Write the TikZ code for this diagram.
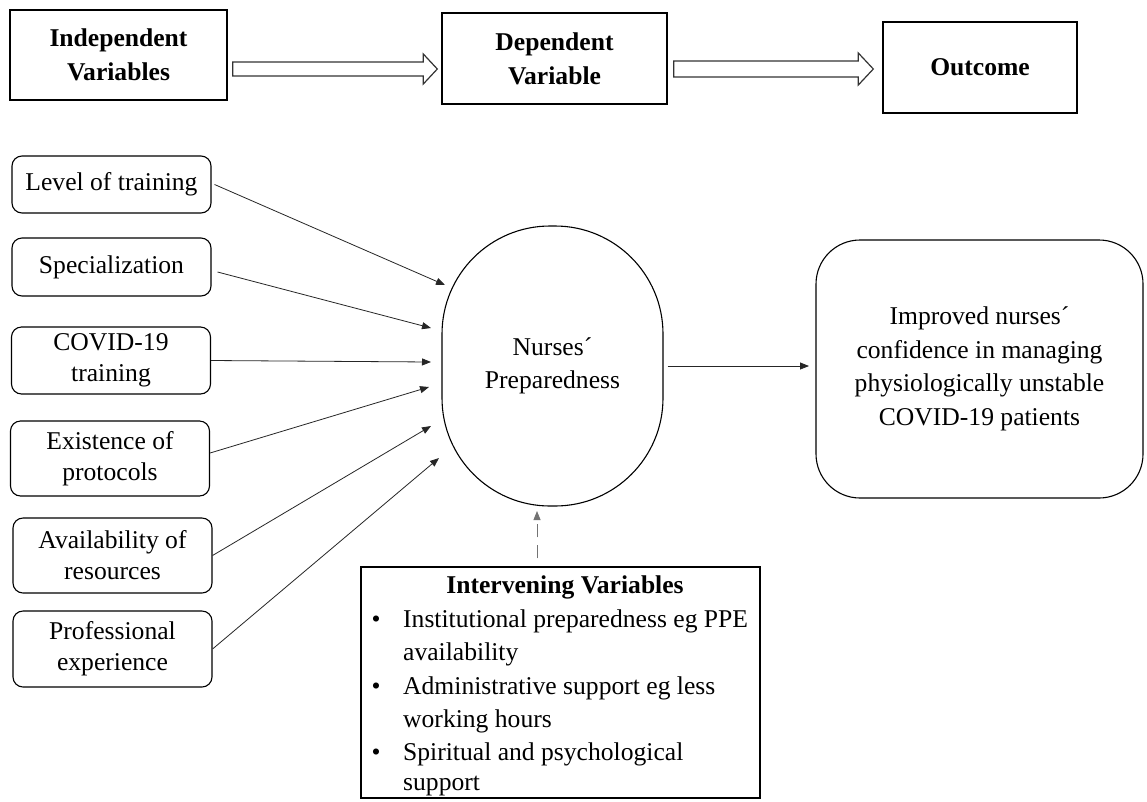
\documentclass[tikz,border=0pt]{standalone}
\usepackage{fontspec}
\setmainfont{Liberation Serif}
\usetikzlibrary{arrows.meta,calc}
\tikzset{
  hdr/.style={draw=black, line width=1.4pt, inner sep=0pt, align=center,
    font=\fontsize{25.6}{34}\selectfont\bfseries},
  varbox/.style={draw=black, line width=1.1pt, rounded corners=10pt, inner sep=0pt,
    align=center, minimum width=199pt, font=\fontsize{25.6}{31}\selectfont},
  bigtxt/.style={inner sep=0pt, align=center, font=\fontsize{25.6}{33.5}\selectfont},
  conn/.style={draw=black!85, line width=0.8pt, -{Triangle[length=9pt,width=7pt]}},
  fat/.style={draw=black!80, line width=1.2pt, fill=white},
  txt/.style={inner sep=0pt, font=\fontsize{25.6}{33}\selectfont},
  ivbox/.style={draw=black, line width=1.3pt, inner sep=0pt}
}
\begin{document}
\begin{tikzpicture}[x=1pt, y=-1pt]
\fill[white] (0,0) rectangle (1147,801);
\useasboundingbox (0,0) rectangle (1147,801);

% header row
\node[hdr, minimum width=217pt, minimum height=90pt] (ind) at (118.5,55) {Independent\\Variables};
\node[hdr, minimum width=225pt, minimum height=91pt] (dep) at (554.5,58.5) {Dependent\\Variable};
\node[hdr, minimum width=194pt, minimum height=91pt] (out) at (980,67.5) {Outcome};

\draw[fat] let \p1=([xshift=5pt]ind.east), \p2=([xshift=-4pt]dep.west) in
  (\x1,-62pt) -- (\x2-14pt,-62pt) -- (\x2-14pt,-54pt) -- (\x2,-69pt) --
  (\x2-14pt,-84pt) -- (\x2-14pt,-76pt) -- (\x1,-76pt) -- cycle;
\draw[fat] let \p1=([xshift=6pt]dep.east), \p2=([xshift=-9pt]out.west) in
  (\x1,-61pt) -- (\x2-15pt,-61pt) -- (\x2-15pt,-53pt) -- (\x2,-69pt) --
  (\x2-15pt,-85pt) -- (\x2-15pt,-77pt) -- (\x1,-77pt) -- cycle;

% independent variables
\node[varbox, minimum height=57pt] (lvl) at (111.5,184.5) {Level of training};
\node[varbox, minimum height=58pt] (spec) at (111.5,267) {Specialization};
\node[varbox, minimum height=67pt] (cov) at (111,360.5) {COVID-19\\training};
\node[varbox, minimum height=75pt] (exi) at (110,458.5) {Existence of\\protocols};
\node[varbox, minimum height=75pt] (ava) at (112.5,555.5) {Availability of\\resources};
\node[varbox, minimum height=76pt] (pro) at (112.5,649) {Professional\\experience};

% dependent variable
\node[draw=black, line width=1.1pt, rounded corners=108pt, minimum width=221pt,
  minimum height=280pt, bigtxt] (np) at (552.5,366) {Nurses´\\Preparedness};

% outcome
\node[draw=black, line width=1.1pt, rounded corners=44pt, minimum width=327pt,
  minimum height=258pt, bigtxt] (imp) at (979.5,369)
  {Improved nurses´\\confidence in managing\\physiologically unstable\\COVID-19 patients};

% intervening variables
\node[ivbox, minimum width=399pt, minimum height=231pt] (iv) at (560.5,682.5) {};
\node[txt, anchor=base, font=\fontsize{25.6}{33}\selectfont\bfseries] (ivt) at (565,593) {Intervening Variables};
\node[txt, anchor=base] (b1) at (376,627) {\textbullet};
\node[txt, anchor=base] (b2) at (376,694) {\textbullet};
\node[txt, anchor=base] (b3) at (376,760) {\textbullet};
\node[txt, anchor=base west] (l1) at (403,627) {Institutional preparedness eg PPE};
\node[txt, anchor=base west] (l2) at (403,660) {availability};
\node[txt, anchor=base west] (l3) at (403,694) {Administrative support eg less};
\node[txt, anchor=base west] (l4) at (403,727) {working hours};
\node[txt, anchor=base west] (l5) at (403,760) {Spiritual and psychological};
\node[txt, anchor=base west] (l6) at (403,790) {support};

% arrow end points
\coordinate (t1) at (445,285);
\coordinate (t2) at (431,328);
\coordinate (t3) at (431,362);
\coordinate (t4) at (429,387);
\coordinate (t5) at (431,426);
\coordinate (t6) at (439,458);
\coordinate (rt) at (809,366);
\coordinate (dt) at (537,511);

\draw[conn] ([xshift=3pt]lvl.east) -- (t1);
\draw[conn] ([xshift=6pt,yshift=-5pt]spec.east) -- (t2);
\draw[conn] (cov.east) -- (t3);
\draw[conn] ([yshift=5.5pt]exi.east) -- (t4);
\draw[conn] (ava.east) -- (t5);
\draw[conn] (pro.east) -- (t6);
\draw[conn] ([xshift=4pt]np.east) -- (rt);
\draw[conn, draw=black!55, dash pattern=on 13pt off 8pt, dash phase=13pt] ([xshift=-23.5pt]iv.north) -- (dt);
\end{tikzpicture}
\end{document}
